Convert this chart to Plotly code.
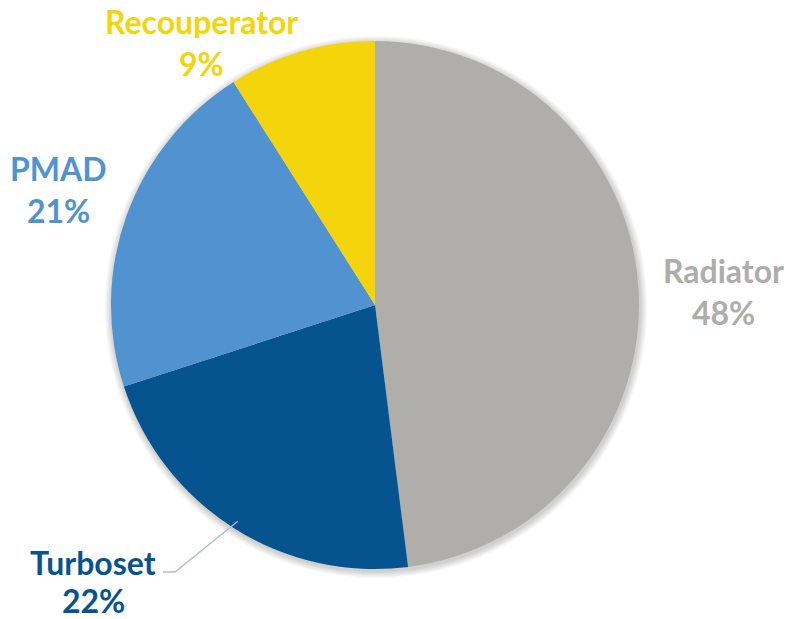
import math
import plotly.graph_objects as go

# Mass breakdown by subsystem
labels = ["Radiator", "Turboset", "PMAD", "Recouperator"]
values = [48, 22, 21, 9]
colors = ["#AFAEAA", "#06548F", "#5093D0", "#F4D50C"]
label_colors = ["#ADADAB", "#06548F", "#5093D0", "#F4D50C"]

W, H = 791, 619
CX, CY, R = 375, 305, 264  # pie centre and radius in pixels


def px(x):
    return x / W


def py(y):
    return 1 - y / H


fig = go.Figure()
fig.add_trace(go.Pie(
    labels=labels,
    values=values,
    sort=False,
    direction="clockwise",
    rotation=0,
    textinfo="none",
    hoverinfo="label+percent",
    marker=dict(colors=colors, line=dict(width=0)),
    domain=dict(x=[px(CX - R), px(CX + R)], y=[py(CY + R), py(CY - R)]),
    showlegend=False,
))

# soft shadow ring under the pie
shapes = []
for i in range(8, 0, -1):
    rr = R + i * 0.9
    shapes.append(dict(
        type="circle", xref="paper", yref="paper", layer="below",
        x0=px(CX + 1 - rr), x1=px(CX + 1 + rr),
        y0=py(CY + 2 + rr), y1=py(CY + 2 - rr),
        fillcolor="rgba(0,0,0,0.025)", line=dict(width=0),
    ))

# outside labels: name line and percent line centres in pixels
label_pos = {
    "Radiator": (723, 270, 312),
    "Turboset": (93, 562, 600),
    "PMAD": (58, 168, 210),
    "Recouperator": (201, 21, 63),
}
total = sum(values)
annotations = []
for lab, val, col in zip(labels, values, label_colors):
    x, y1, y2 = label_pos[lab]
    for txt, yy in ((lab, y1), (f"{val / total * 100:.0f}%", y2)):
        annotations.append(dict(
            x=px(x), y=py(yy), xref="paper", yref="paper",
            xanchor="center", yanchor="middle", showarrow=False,
            text=f"<b>{txt}</b>", borderpad=0, height=34, valign="middle",
            font=dict(family="Lato", size=32, color=col),
        ))

# leader line for the Turboset label, starting near the slice's mid-angle edge
start = 0.0
for lab, val in zip(labels, values):
    if lab == "Turboset":
        mid = (start + val / 2) / total * 2 * math.pi
        break
    start += val
ex = CX + (R - 8) * math.sin(mid)
ey = CY - (R - 8) * math.cos(mid)
shapes.append(dict(
    type="path", xref="paper", yref="paper",
    path=f"M {px(163)} {py(572)} L {px(175)} {py(572)} L {px(ex)} {py(ey)}",
    line=dict(color="#AEB8D8", width=1.3),
))

fig.update_layout(
    width=W, height=H,
    margin=dict(l=0, r=0, t=0, b=0),
    paper_bgcolor="white",
    plot_bgcolor="white",
    shapes=shapes,
    annotations=annotations,
)

fig.write_html("out.html")
